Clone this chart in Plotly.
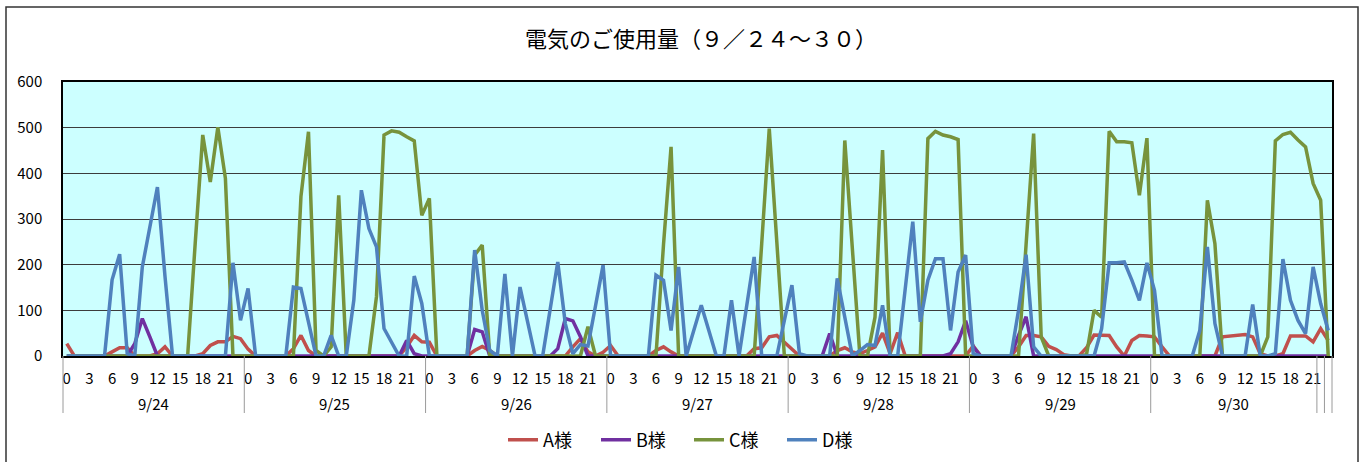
import plotly.graph_objects as go

days = ["9/24", "9/25", "9/26", "9/27", "9/28", "9/29", "9/30"]
hours = list(range(24))
hour_ticks = [0, 3, 6, 9, 12, 15, 18, 21]
y_ticks = [0, 100, 200, 300, 400, 500, 600]

# hourly usage, 9/24 .. 9/30 (24 values per day)
a_usage = (
    [27, 0, 0, 0, 0, 0, 9, 18, 18, 0, 0, 0, 5, 20, 0, 0, 0, 0, 5, 23, 31, 31, 43, 38]
    + [15, 0, 0, 0, 0, 0, 16, 45, 12, 0, 0, 0, 0, 0, 0, 0, 0, 0, 0, 0, 0, 20, 45, 31]
    + [30, 0, 0, 0, 0, 0, 12, 21, 12, 0, 0, 0, 0, 0, 0, 0, 0, 0, 0, 20, 38, 9, 0, 8]
    + [23, 0, 0, 0, 0, 0, 12, 20, 9, 0, 0, 0, 0, 0, 0, 0, 0, 0, 0, 16, 18, 42, 45, 30]
    + [15, 0, 0, 0, 0, 0, 12, 18, 9, 5, 12, 20, 50, 5, 51, 0, 0, 0, 0, 0, 0, 0, 0, 0]
    + [22, 0, 0, 0, 0, 0, 20, 45, 45, 42, 21, 14, 3, 0, 0, 18, 46, 46, 45, 20, 0, 34, 45, 44]
    + [42, 20, 0, 0, 0, 0, 0, 0, 0, 42, 44, 45, 47, 42, 5, 0, 0, 5, 44, 44, 44, 31, 60, 34]
)
b_usage = (
    [0, 0, 0, 0, 0, 0, 0, 0, 0, 27, 82, 42, 0, 0, 0, 0, 0, 0, 0, 0, 0, 0, 0, 0]
    + [0, 0, 0, 0, 0, 0, 0, 0, 0, 0, 0, 0, 0, 0, 0, 0, 0, 0, 0, 0, 0, 34, 5, 0]
    + [0, 0, 0, 0, 0, 0, 58, 53, 0, 0, 0, 0, 0, 0, 0, 0, 0, 16, 82, 77, 42, 0, 0, 0]
    + [0, 0, 0, 0, 0, 0, 0, 0, 0, 0, 0, 0, 0, 0, 0, 0, 0, 0, 0, 0, 0, 0, 0, 0]
    + [0, 0, 0, 0, 0, 49, 0, 0, 0, 0, 0, 0, 0, 0, 0, 0, 0, 0, 0, 0, 0, 5, 31, 77]
    + [20, 0, 0, 0, 0, 0, 45, 86, 0, 0, 0, 0, 0, 0, 0, 0, 0, 0, 0, 0, 0, 0, 0, 0]
    + [0, 0, 0, 0, 0, 0, 0, 0, 0, 0, 0, 0, 0, 0, 0, 0, 0, 0, 0, 0, 0, 0, 0, 0]
)
c_usage = (
    [0, 0, 0, 0, 0, 0, 0, 0, 0, 0, 0, 0, 0, 0, 0, 0, 0, 246, 484, 381, 501, 389, 0, 0]
    + [0, 0, 0, 0, 0, 0, 0, 349, 491, 12, 0, 20, 352, 0, 0, 0, 0, 130, 484, 493, 490, 480, 471, 308]
    + [345, 0, 0, 0, 0, 0, 221, 243, 0, 0, 0, 0, 0, 0, 0, 0, 0, 0, 0, 0, 0, 64, 0, 0]
    + [0, 0, 0, 0, 0, 0, 0, 244, 458, 0, 0, 0, 0, 0, 0, 0, 0, 0, 0, 0, 246, 498, 250, 0]
    + [0, 0, 0, 0, 0, 0, 0, 472, 236, 0, 0, 85, 451, 0, 0, 0, 0, 0, 476, 492, 484, 480, 474, 0]
    + [0, 0, 0, 0, 0, 0, 0, 244, 487, 42, 0, 0, 0, 0, 0, 3, 100, 85, 492, 469, 469, 467, 352, 477]
    + [0, 0, 0, 0, 0, 0, 0, 341, 246, 0, 0, 0, 0, 0, 0, 42, 471, 485, 490, 473, 458, 378, 341, 0]
)
d_usage = (
    [0, 0, 0, 0, 0, 0, 167, 223, 5, 0, 195, 283, 370, 175, 0, 0, 0, 0, 0, 0, 0, 0, 204, 78]
    + [148, 0, 0, 0, 0, 0, 151, 148, 74, 0, 0, 45, 0, 0, 122, 363, 279, 239, 60, 31, 0, 0, 175, 115]
    + [0, 0, 0, 0, 0, 0, 232, 100, 12, 0, 180, 0, 151, 76, 0, 0, 103, 206, 71, 5, 25, 22, 110, 199]
    + [0, 0, 0, 0, 0, 0, 177, 166, 56, 195, 0, 56, 111, 56, 0, 0, 122, 0, 105, 217, 0, 0, 0, 78]
    + [155, 5, 0, 0, 0, 0, 170, 85, 0, 12, 25, 23, 111, 0, 0, 147, 294, 75, 166, 213, 213, 56, 184, 221]
    + [5, 0, 0, 0, 0, 0, 100, 222, 20, 0, 0, 0, 0, 0, 0, 0, 0, 60, 204, 204, 206, 166, 122, 204]
    + [144, 0, 0, 0, 0, 0, 56, 239, 71, 0, 0, 0, 0, 113, 0, 0, 5, 212, 122, 78, 49, 195, 115, 56]
)

series = [
    ("A様", a_usage, "#C0504D"),
    ("B様", b_usage, "#7030A0"),
    ("C様", c_usage, "#77933C"),
    ("D様", d_usage, "#4F81BD"),
]

FONT = "Noto Sans CJK JP, Noto Sans, sans-serif"
n = len(days) * len(hours)
xpos = [i + 0.5 for i in range(n)]

fig = go.Figure()
for name, vals, color in series:
    fig.add_trace(go.Scatter(
        x=xpos, y=vals, name=name, mode="lines",
        line=dict(color=color, width=3.5),
    ))

tickvals, ticktext = [], []
for d in range(len(days)):
    for h in hour_ticks:
        tickvals.append(d * 24 + h + 0.5)
        ticktext.append(str(h))

# plot geometry (px)
W, H = 1363, 462
ML, MR, MT, MB = 63, 31, 82, 106
PW, PH = W - ML - MR, H - MT - MB


def px_x(px):
    return (px - ML) / PW


def px_y(py):
    return (H - MB - py) / PH


shapes = []
# day separators (last day has its final two hours in separate groups)
bounds = [d * 24 for d in range(len(days))] + [n - 2, n - 1, n]
for b in bounds:
    shapes.append(dict(type="line", xref="paper", yref="paper",
                       x0=b / n, x1=b / n, y0=0, y1=px_y(413),
                       line=dict(color="#9a9a9a", width=1)))
# chart outer border
shapes.append(dict(type="rect", xref="paper", yref="paper",
                   x0=px_x(6), x1=px_x(1358), y0=px_y(480), y1=px_y(7),
                   line=dict(color="#333333", width=1.5), layer="below"))

annotations = []
day_spans = [(d * 24, d * 24 + 24) for d in range(len(days) - 1)] + [(144, 166)]
for label, (s, e) in zip(days, day_spans):
    annotations.append(dict(x=(s + e) / 2, xref="x", y=px_y(403), yref="paper",
                            text=label, showarrow=False,
                            font=dict(size=15, color="black", family=FONT),
                            xanchor="center", yanchor="middle"))

fig.update_layout(
    width=W, height=H,
    margin=dict(l=ML, r=MR, t=MT, b=MB, autoexpand=False),
    paper_bgcolor="white",
    plot_bgcolor="#CCFFFF",
    font=dict(family=FONT, color="black"),
    title=dict(text="電気のご使用量（９／２４～３０）", x=701 / W, xanchor="center",
               y=1 - 39 / H, yanchor="middle", xref="container", yref="container",
               font=dict(size=22, color="black", family=FONT)),
    xaxis=dict(range=[0, n], tickmode="array", tickvals=tickvals, ticktext=ticktext,
               showgrid=False, zeroline=False, ticks="", ticklabelstandoff=8,
               automargin=False,
               tickfont=dict(size=15, color="black", family=FONT),
               showline=True, linecolor="black", linewidth=1.5, mirror=True),
    yaxis=dict(range=[0, 600], tickmode="array", tickvals=y_ticks,
               showgrid=True, gridcolor="#3c3c3c", gridwidth=1, zeroline=False,
               ticks="", ticklabelstandoff=16, automargin=False,
               tickfont=dict(size=15, color="black", family=FONT),
               showline=True, linecolor="black", linewidth=1.5, mirror=True),
    showlegend=True,
    legend=dict(orientation="h", xref="container", yref="container",
                x=689 / W, xanchor="center", y=(H - 440) / H,
                yanchor="middle", font=dict(size=18, color="black", family=FONT),
                bgcolor="rgba(0,0,0,0)", entrywidth=48, entrywidthmode="pixels"),
    shapes=shapes,
    annotations=annotations,
)

fig.write_html("out.html", config={"displayModeBar": False},
               post_script="document.body.style.margin='0';document.body.style.overflow='hidden';")
